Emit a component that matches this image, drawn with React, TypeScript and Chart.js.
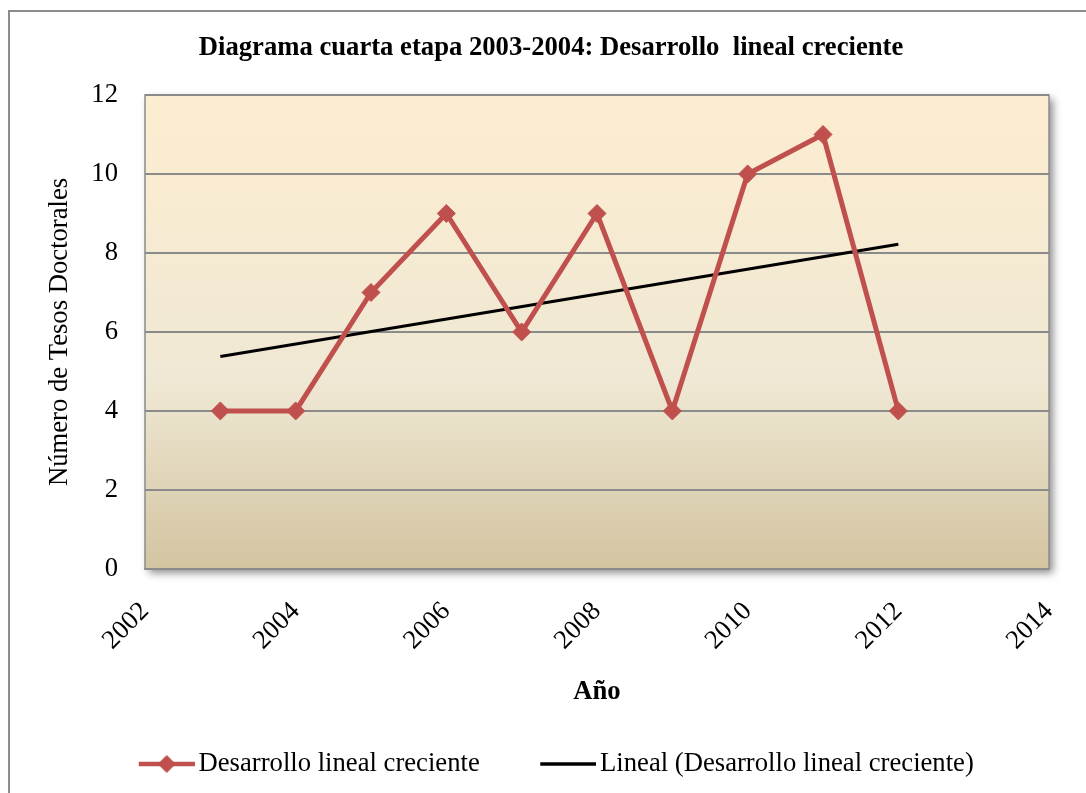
import React, { useEffect, useRef } from "react";
import { Chart, registerables } from "chart.js";

Chart.register(...registerables);

const years = [2003, 2004, 2005, 2006, 2007, 2008, 2009, 2010, 2011, 2012];
const tesis = [4, 4, 7, 9, 6, 9, 4, 10, 11, 4];
const trendYears = [2003, 2012];
const trendValues = [5.38, 8.22];
const xRange = [2002, 2014];
const yRange = [0, 12];

const titleText = "Diagrama cuarta etapa 2003-2004: Desarrollo  lineal creciente";
const seriesName = "Desarrollo lineal creciente";
const trendName = "Lineal (Desarrollo lineal creciente)";
const xTitle = "Año";
const yTitle = "Número de Tesos Doctorales";

const SERIF = "'Liberation Serif', 'Times New Roman', serif";
const RED = "#c0504d";
const FS = 26.67;

function makeMarker(kind: "red" | "black"): HTMLCanvasElement {
  const c = document.createElement("canvas");
  const W = 96;
  c.width = W;
  c.height = 22;
  const g = c.getContext("2d")!;
  const x0 = W - 56;
  if (kind === "red") {
    g.strokeStyle = RED;
    g.lineWidth = 4.5;
    g.beginPath();
    g.moveTo(x0, 11);
    g.lineTo(W, 11);
    g.stroke();
    g.fillStyle = RED;
    const cx = x0 + 28;
    g.beginPath();
    g.moveTo(cx, 2);
    g.lineTo(cx + 9, 11);
    g.lineTo(cx, 20);
    g.lineTo(cx - 9, 11);
    g.closePath();
    g.fill();
  } else {
    g.strokeStyle = "#000";
    g.lineWidth = 3.5;
    g.beginPath();
    g.moveTo(x0, 11);
    g.lineTo(W, 11);
    g.stroke();
  }
  return c;
}

const backgroundPlugin = {
  id: "bgPlot",
  afterLayout(chart: any) {
    if (chart.legend) {
      chart.legend.left -= 10;
      chart.legend.right -= 10;
    }
  },
  beforeDraw(chart: any) {
    const { ctx, chartArea, width, height } = chart;
    ctx.save();
    ctx.fillStyle = "#fff";
    ctx.fillRect(0, 0, width, height);
    ctx.strokeStyle = "#8c8c8c";
    ctx.lineWidth = 2;
    ctx.strokeRect(9, 11, width + 20, height + 20);
    const { left, top, right, bottom } = chartArea;
    const grad = ctx.createLinearGradient(0, top, 0, bottom);
    grad.addColorStop(0, "#fdedd0");
    grad.addColorStop(0.6, "#efe8d4");
    grad.addColorStop(1, "#d3c4a1");
    ctx.shadowColor = "rgba(0,0,0,0.45)";
    ctx.shadowBlur = 8;
    ctx.shadowOffsetX = 4;
    ctx.shadowOffsetY = 4;
    ctx.fillStyle = grad;
    ctx.fillRect(left, top, right - left, bottom - top);
    ctx.shadowColor = "transparent";
    ctx.strokeStyle = "#8c8c8c";
    ctx.lineWidth = 1.5;
    ctx.strokeRect(left, top, right - left, bottom - top);
    ctx.restore();
  },
};

export default function App() {
  const ref = useRef<HTMLCanvasElement>(null);

  useEffect(() => {
    if (!ref.current) return;
    const redMarker = makeMarker("red");
    const blackMarker = makeMarker("black");
    const chart = new Chart(ref.current, {
      type: "line",
      data: {
        datasets: [
          {
            label: seriesName,
            data: years.map((y, i) => ({ x: y, y: tesis[i] })),
            borderColor: RED,
            backgroundColor: RED,
            borderWidth: 5,
            pointStyle: "rectRot",
            pointRadius: 9,
            pointHoverRadius: 9,
            pointBackgroundColor: RED,
            pointBorderColor: RED,
            pointBorderWidth: 1,
            tension: 0,
          },
          {
            label: trendName,
            data: trendYears.map((y, i) => ({ x: y, y: trendValues[i] })),
            borderColor: "#000",
            backgroundColor: "#000",
            borderWidth: 3,
            pointRadius: 0,
            tension: 0,
          },
        ],
      },
      options: {
        animation: false,
        responsive: false,
        color: "#000",
        layout: { padding: { left: 53, right: 37, top: 14, bottom: 5.7 } },
        plugins: {
          tooltip: { enabled: false },
          title: {
            display: true,
            text: titleText,
            color: "#000",
            font: { family: SERIF, size: FS, weight: "bold" },
            padding: { top: 18, bottom: 31 },
          },
          legend: {
            position: "bottom",
            labels: {
              usePointStyle: true,
              pointStyleWidth: 77,
              boxWidth: 77,
              padding: 30,
              color: "#000",
              font: { family: SERIF, size: FS },
              generateLabels: (ch: any) => {
                const items = (Chart.defaults.plugins.legend.labels as any).generateLabels(ch);
                items[0].pointStyle = redMarker;
                items[1].pointStyle = blackMarker;
                items.forEach((it: any) => {
                  it.rotation = 0;
                });
                return items;
              },
            },
          },
        },
        scales: {
          x: {
            type: "linear",
            min: xRange[0],
            max: xRange[1],
            afterFit: (s: any) => {
              s.height = 151.7;
              s.paddingRight = 0;
            },
            ticks: {
              stepSize: 2,
              minRotation: 45,
              maxRotation: 45,
              padding: 27,
              color: "#000",
              font: { family: SERIF, size: FS },
              callback: (v: any) => String(v),
            },
            grid: { display: false, drawTicks: false },
            border: { display: true, color: "#8c8c8c", width: 1.5 },
            title: {
              display: true,
              text: xTitle,
              color: "#000",
              font: { family: SERIF, size: FS, weight: "bold" },
              padding: { top: 0, bottom: 12.7 },
            },
          },
          y: {
            min: yRange[0],
            max: yRange[1],
            afterFit: (s: any) => {
              s.width = 92;
            },
            ticks: {
              stepSize: 2,
              padding: 27,
              color: "#000",
              font: { family: SERIF, size: FS },
            },
            grid: { color: "#8a8a8a", lineWidth: 2, drawTicks: false },
            border: { display: false },
            title: {
              display: true,
              text: yTitle,
              color: "#000",
              font: { family: SERIF, size: FS },
              padding: { top: -9, bottom: 0 },
            },
          },
        },
      },
      plugins: [backgroundPlugin],
    } as any);
    return () => chart.destroy();
  }, []);

  return (
    <div style={{ position: "fixed", left: 0, top: 0, width: 1086, height: 793 }}>
      <canvas ref={ref} width={1086} height={793} style={{ display: "block" }} />
    </div>
  );
}
